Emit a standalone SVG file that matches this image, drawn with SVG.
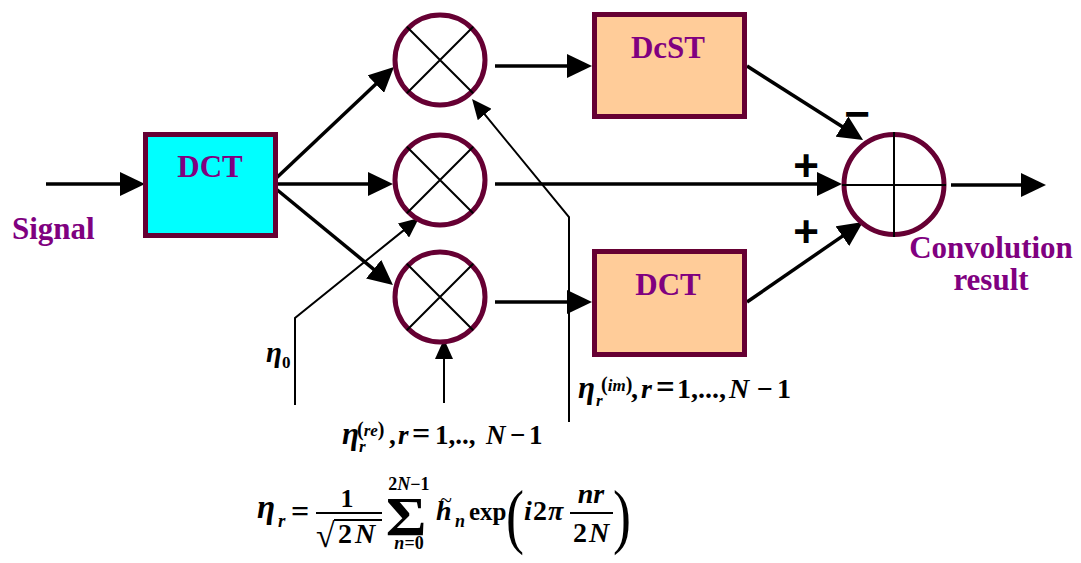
<svg xmlns="http://www.w3.org/2000/svg" width="1081" height="563" viewBox="0 0 1081 563">
  <defs>
    <!-- filled arrowheads; path ends one unit inside the base -->
    <marker id="ah" markerUnits="userSpaceOnUse" markerWidth="25" markerHeight="24" viewBox="0 0 25 24" refX="1" refY="12" orient="auto">
      <path d="M0,0 L25,12 L0,24 z" fill="#000"/>
    </marker>
    <marker id="ahs" markerUnits="userSpaceOnUse" markerWidth="20" markerHeight="18" viewBox="0 0 20 18" refX="1" refY="9" orient="auto">
      <path d="M0,0 L20,9 L0,18 z" fill="#000"/>
    </marker>
  </defs>
  <style>
    .box{stroke:#660033;stroke-width:5}
    .ring{fill:#fff;stroke:#660033;stroke-width:5}
    .cross{stroke:#000;stroke-width:2}
    .wire{fill:none;stroke:#000;stroke-width:3.5}
    .feed{fill:none;stroke:#000;stroke-width:2}
    .lbl{font-family:"Liberation Serif","Times New Roman",serif;font-weight:bold;fill:#800080;font-size:31px}
    .mid{text-anchor:middle}
    .m{font-family:"Liberation Serif","Times New Roman",serif;font-weight:bold;fill:#000}
    .it{font-style:italic}
    .sign{font-family:"Liberation Sans",Arial,sans-serif;font-weight:bold;font-size:44px;fill:#000;text-anchor:middle}
    .bar{stroke:#000;stroke-width:1.8}
  </style>

  <!-- connectors -->
  <g id="connectors">
    <path class="wire" d="M46,184 H121" marker-end="url(#ah)"/>
    <path class="wire" d="M270,184 L376.5,83.5" marker-end="url(#ah)"/>
    <path class="wire" d="M270,184 H369" marker-end="url(#ah)"/>
    <path class="wire" d="M270,184 L374.4,269.8" marker-end="url(#ah)"/>
    <path class="wire" d="M495,66 H568" marker-end="url(#ah)"/>
    <path class="wire" d="M495,184 H818" marker-end="url(#ah)"/>
    <path class="wire" d="M495,302 H568" marker-end="url(#ah)"/>
    <path class="wire" d="M747,66 L842.8,127.1" marker-end="url(#ah)"/>
    <path class="wire" d="M747,302 L843.2,235.6" marker-end="url(#ah)"/>
    <path class="wire" d="M951,185 H1022" marker-end="url(#ah)"/>
    <!-- coefficient feeds -->
    <path class="feed" d="M295,405 V318 L404.2,229.9" marker-end="url(#ahs)"/>
    <path class="feed" d="M444,403 V358" marker-end="url(#ahs)"/>
    <path class="feed" d="M569,422 V217 L484.1,113.7" marker-end="url(#ahs)"/>
  </g>

  <!-- transform blocks -->
  <g id="dct-in">
    <rect class="box" x="145.5" y="134.5" width="130" height="101" fill="#00ffff"/>
    <text class="lbl mid" x="210" y="177">DCT</text>
  </g>
  <g id="dcst">
    <rect class="box" x="594.5" y="14.5" width="150" height="102" fill="#ffcc99"/>
    <text class="lbl mid" x="668" y="58">DcST</text>
  </g>
  <g id="dct-out">
    <rect class="box" x="594.5" y="251.5" width="150" height="103" fill="#ffcc99"/>
    <text class="lbl mid" x="668" y="295">DCT</text>
  </g>

  <!-- multipliers -->
  <g id="mul-top">
    <circle class="ring" cx="440" cy="60" r="45"/>
    <path class="cross" d="M406.8,26.8 L473.2,93.2 M473.2,26.8 L406.8,93.2"/>
  </g>
  <g id="mul-mid">
    <circle class="ring" cx="440" cy="180" r="45"/>
    <path class="cross" d="M406.8,146.8 L473.2,213.2 M473.2,146.8 L406.8,213.2"/>
  </g>
  <g id="mul-bot">
    <circle class="ring" cx="440" cy="297" r="45"/>
    <path class="cross" d="M406.8,263.8 L473.2,330.2 M473.2,263.8 L406.8,330.2"/>
  </g>

  <!-- summing junction -->
  <g id="sum">
    <circle class="ring" cx="894" cy="184.5" r="50"/>
    <path class="cross" d="M842,185 H946 M894,132 V237"/>
    <text class="sign" x="857" y="129" font-size="50">−</text>
    <text class="sign" x="806" y="181">+</text>
    <text class="sign" x="806" y="247">+</text>
  </g>

  <!-- input / output labels -->
  <g id="signal">
    <text class="lbl" x="12" y="239">Signal</text>
  </g>
  <g id="result">
    <text class="lbl mid" x="991" y="258">Convolution</text>
    <text class="lbl mid" x="991" y="290">result</text>
  </g>

  <!-- coefficient labels -->
  <g id="eta0" class="m">
    <text class="it" x="266" y="362" font-size="29">η</text>
    <text x="282" y="368" font-size="17">0</text>
  </g>

  <g id="eta-re" class="m">
    <text class="it" x="342" y="444" font-size="31">η</text>
    <text class="it" x="359" y="452" font-size="17">r</text>
    <text x="357" y="436" font-size="20">(<tspan class="it" font-size="17">re</tspan>)</text>
    <text font-size="27" y="444"><tspan x="389">,</tspan><tspan class="it" x="398">r</tspan><tspan x="412" font-size="32">=</tspan><tspan x="435">1,..,</tspan><tspan class="it" x="486">N</tspan><tspan x="510">−</tspan><tspan x="529">1</tspan></text>
  </g>

  <g id="eta-im" class="m">
    <text class="it" x="578" y="398" font-size="31">η</text>
    <text class="it" x="596" y="406" font-size="17">r</text>
    <text x="601" y="391" font-size="20">(<tspan class="it" font-size="17">im</tspan>)</text>
    <text font-size="28" y="398"><tspan x="631">,</tspan><tspan class="it" x="641">r</tspan><tspan x="656" font-size="33">=</tspan><tspan x="677">1,...,</tspan><tspan class="it" x="729">N</tspan><tspan x="757">−</tspan><tspan x="777">1</tspan></text>
  </g>

  <!-- definition of the coefficients -->
  <g id="formula" class="m">
    <text class="it" x="257" y="518" font-size="33">η</text>
    <text class="it" x="278" y="527" font-size="19">r</text>
    <text x="300" y="522" font-size="32" text-anchor="middle">=</text>
    <line class="bar" x1="316" y1="513" x2="382" y2="513"/>
    <text x="347" y="507" font-size="26" text-anchor="middle">1</text>
    <text x="316" y="547" font-size="34" font-weight="normal">√</text>
    <line class="bar" x1="334" y1="520" x2="382" y2="520"/>
    <text y="543" font-size="28"><tspan x="338">2</tspan><tspan class="it" x="355">N</tspan></text>
    <text x="0" y="0" font-size="54" text-anchor="middle" transform="translate(406,535) scale(1.15,1)">Σ</text>
    <text y="490" font-size="18" text-anchor="middle" x="409">2<tspan class="it">N</tspan>−1</text>
    <text y="549" font-size="18" text-anchor="middle" x="409"><tspan class="it">n</tspan>=0</text>
    <text class="it" x="436" y="520" font-size="28">h</text>
    <text x="446" y="507" font-size="22" text-anchor="middle" font-weight="normal">~</text>
    <text class="it" x="455" y="527" font-size="18">n</text>
    <text x="469" y="520" font-size="25">exp</text>
    <text x="0" y="0" font-size="72" font-weight="normal" transform="translate(506,540) scale(0.75,1)">(</text>
    <text y="520" font-size="28"><tspan class="it" x="524">i</tspan><tspan x="533">2</tspan><tspan class="it" x="548">π</tspan></text>
    <line class="bar" x1="570" y1="513" x2="613" y2="513"/>
    <text class="it" x="591" y="503" font-size="28" text-anchor="middle">nr</text>
    <text y="542" font-size="28"><tspan x="573">2</tspan><tspan class="it" x="589">N</tspan></text>
    <text x="0" y="0" font-size="72" font-weight="normal" transform="translate(613,540) scale(0.75,1)">)</text>
  </g>
</svg>
